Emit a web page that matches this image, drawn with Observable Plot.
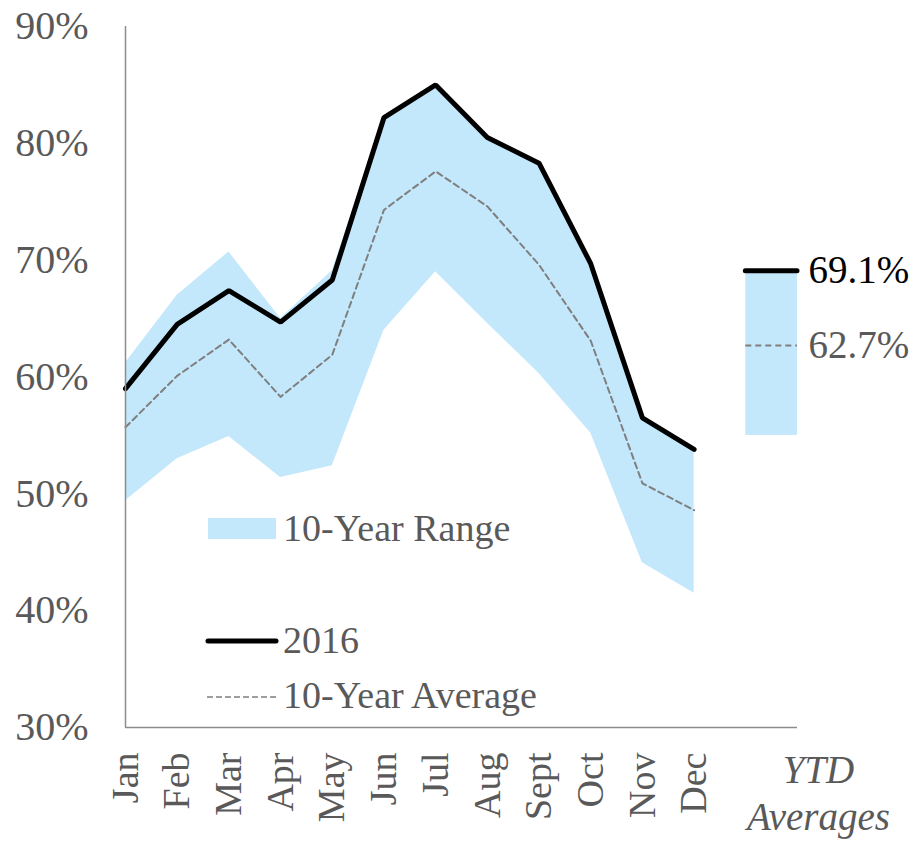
<!DOCTYPE html>
<html>
<head>
<meta charset="utf-8">
<script src="https://cdn.jsdelivr.net/npm/d3@7"></script>
<script src="https://cdn.jsdelivr.net/npm/@observablehq/plot@0.6"></script>
<style>
  html, body { margin: 0; padding: 0; background: #fff; }
  #chart { position: relative; width: 915px; height: 841px; }
</style>
</head>
<body>
<div id="chart"></div>
<script>
// ---- data ----
const months = ["Jan","Feb","Mar","Apr","May","Jun","Jul","Aug","Sept","Oct","Nov","Dec"];
const val2016 = [59.0, 64.5, 67.4, 64.7, 68.3, 82.2, 85.0, 80.5, 78.3, 69.7, 56.5, 53.8];
const avg10 = [55.7, 60.1, 63.2, 58.3, 61.9, 74.3, 77.6, 74.6, 69.6, 63.1, 50.9, 48.6];
const rangeHigh = [61.2, 67.0, 70.7, 65.0, 69.1, 82.2, 85.0, 80.5, 78.3, 69.7, 56.5, 53.8];
const rangeLow = [49.4, 53.0, 54.9, 51.4, 52.4, 64.0, 69.0, 64.6, 60.3, 55.2, 44.1, 41.5];
const ytd2016 = 69.1;
const ytdAvg = 62.7;
const ytdLow = 55.0;
const ytdSlot = [12, 13];
const yTicks = [30, 40, 50, 60, 70, 80, 90];

const rows = months.map((m, i) => ({i, m, v: val2016[i], a: avg10[i], hi: rangeHigh[i], lo: rangeLow[i]}));
const ytd = [{x1: ytdSlot[0], x2: ytdSlot[1], v: ytd2016, a: ytdAvg, lo: ytdLow}];

const FONT = "'Liberation Serif', 'Times New Roman', serif";
const GRAY = "#595959";
const BLUE = "#c3e7fb";

const plot = Plot.plot({
  width: 915,
  height: 841,
  marginLeft: 125,
  marginRight: 118,
  marginTop: 26,
  marginBottom: 114,
  style: {fontFamily: FONT, fontSize: "38px", color: GRAY, background: "#fff"},
  x: {type: "linear", domain: [0, 13]},
  y: {domain: [30, 90]},
  marks: [
    Plot.areaY(rows, {x: "i", y1: "lo", y2: "hi", fill: BLUE}),
    Plot.rectY(ytd, {x1: "x1", x2: "x2", y1: "lo", y2: "v", fill: BLUE, inset: 0}),
    Plot.line(rows, {x: "i", y: "a", stroke: "#7f7f7f", strokeWidth: 2, strokeDasharray: "6,4"}),
    Plot.line(rows, {x: "i", y: "v", stroke: "#000", strokeWidth: 5, strokeLinejoin: "miter"}),
    Plot.ruleY(ytd, {x1: "x1", x2: "x2", y: "a", stroke: "#7f7f7f", strokeWidth: 2, strokeDasharray: "6,4"}),
    Plot.ruleY(ytd, {x1: "x1", x2: "x2", y: "v", stroke: "#000", strokeWidth: 5, strokeLinecap: "round"}),
    Plot.text(ytd, {x: "x2", y: "v", text: d => d.v.toFixed(1) + "%", textAnchor: "start", dx: 11, fill: "#000", fontSize: 39}),
    Plot.text(ytd, {x: "x2", y: "a", text: d => d.a.toFixed(1) + "%", textAnchor: "start", dx: 11, fill: GRAY, fontSize: 39}),
    Plot.ruleX([0], {y1: 30, y2: 90, stroke: "#8c8c8c", strokeWidth: 1.5}),
    Plot.ruleY([30], {x1: 0, x2: 13, stroke: "#8c8c8c", strokeWidth: 1.5}),
    Plot.axisY({ticks: yTicks, tickFormat: d => d + "%", tickSize: 0, tickPadding: 37, fontSize: 40, fill: GRAY, label: null}),
    Plot.axisX({ticks: d3.range(months.length), tickFormat: i => months[i], tickRotate: -90, tickSize: 0, tickPadding: 25, fontSize: 38, fill: GRAY, label: null}),
    Plot.text(["YTD\nAverages"], {frameAnchor: "bottom-right", dx: 21, dy: 22, lineAnchor: "top", lineHeight: 1.2, textAnchor: "middle", fontStyle: "italic", fill: GRAY, fontSize: 39})
  ]
});

document.getElementById("chart").appendChild(plot);

// legend inside the plot area
const svg = d3.select(plot);
const lg = svg.append("g").attr("font-family", FONT).attr("font-size", 38).attr("fill", GRAY).attr("text-anchor", "start");
lg.append("rect").attr("x", 208).attr("y", 518).attr("width", 68).attr("height", 21).attr("fill", BLUE);
lg.append("text").attr("x", 283).attr("y", 541).text("10-Year Range");
lg.append("line").attr("x1", 208).attr("x2", 276).attr("y1", 641).attr("y2", 641)
  .attr("stroke", "#000").attr("stroke-width", 5).attr("stroke-linecap", "round");
lg.append("text").attr("x", 283).attr("y", 653).text("2016");
lg.append("line").attr("x1", 207).attr("x2", 276).attr("y1", 697).attr("y2", 697)
  .attr("stroke", "#7f7f7f").attr("stroke-width", 1.5).attr("stroke-dasharray", "6,3");
lg.append("text").attr("x", 283).attr("y", 708).text("10-Year Average");
</script>
</body>
</html>
